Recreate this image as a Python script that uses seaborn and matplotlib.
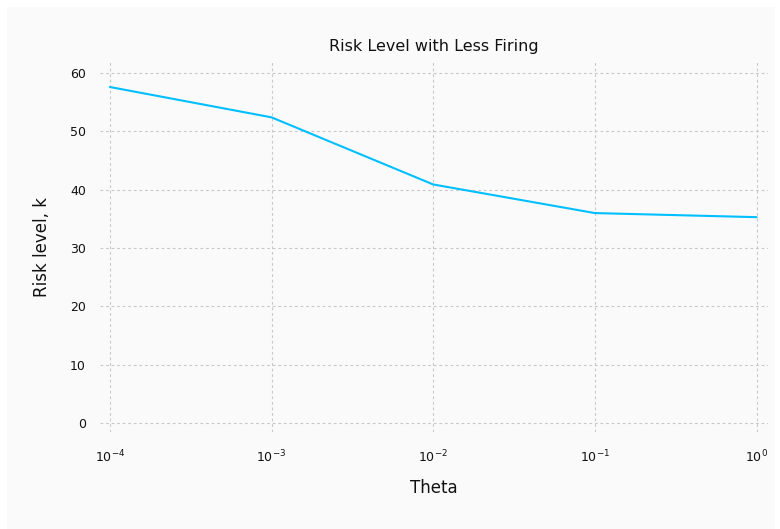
import numpy as np
import pandas as pd
import matplotlib
matplotlib.use("Agg")
import matplotlib.pyplot as plt
import seaborn as sns
from matplotlib.patches import Rectangle

# Data
theta = [1e-4, 1e-3, 1e-2, 1e-1, 1e0]
risk_level = [57.6, 52.4, 40.9, 36.0, 35.3]

df = pd.DataFrame({"Theta": theta, "Risk": risk_level})

sns.set_style("white")
plt.rcParams['font.family'] = ['DejaVu Sans']

fig = plt.figure(figsize=(7.8, 5.29), dpi=100, facecolor='white')
# light grey panel inside a thin white border (drawn behind the axes)
fig.patches.append(Rectangle((7 / 780, 0), 1 - 12 / 780, 1 - 7 / 529,
                             transform=fig.transFigure, facecolor='#fafafa',
                             edgecolor='none', zorder=-5))

ax = fig.add_axes([0.128, 0.183, 0.856, 0.700])
ax.set_facecolor('#fafafa')

sns.lineplot(data=df, x="Theta", y="Risk", color='#00bfff', linewidth=1.5, ax=ax)

ax.set_xscale('log')
ax.set_xlim(10 ** -4.062, 10 ** 0.068)
ax.set_ylim(-1.54, 61.9)
ax.set_xticks(theta)
ax.set_xticklabels([r'$10^{-4}$', r'$10^{-3}$', r'$10^{-2}$', r'$10^{-1}$', r'$10^{0}$'])
ax.set_yticks([0, 10, 20, 30, 40, 50, 60])
ax.minorticks_off()

ax.grid(True, linestyle=(0, (2.5, 2.5)), color='#c8c8c8', linewidth=0.8)
for s in ax.spines.values():
    s.set_visible(False)
ax.tick_params(axis='both', length=0, labelsize=9, colors='#111111', pad=10)
ax.tick_params(axis='x', pad=12)

ax.set_title("Risk Level with Less Firing", fontsize=11.5, pad=8, color='#111111')
ax.set_xlabel("Theta", fontsize=12, labelpad=10, color='#111111')
ax.set_ylabel("Risk level, k", fontsize=12, labelpad=14, color='#111111')

fig.savefig("out.png", dpi=100, facecolor=fig.get_facecolor())
